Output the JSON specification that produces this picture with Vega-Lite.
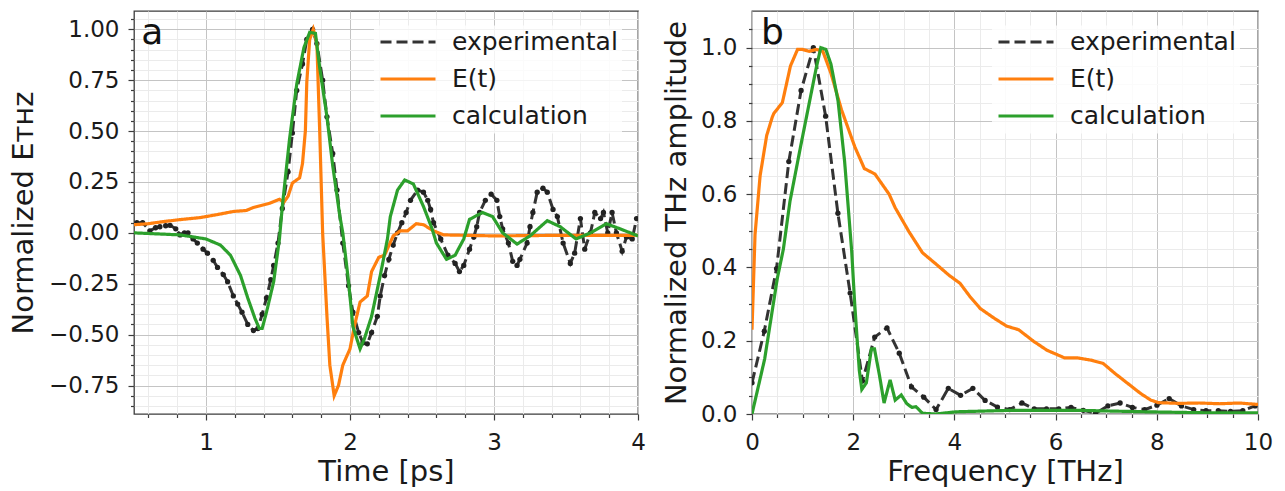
{
  "$schema": "https://vega.github.io/schema/vega-lite/v6.json",
  "background": "white",
  "padding": {"left": 8, "top": 7, "right": 0, "bottom": 0},
  "datasets": {
    "a": [
      {"t":0.52,"E":0.05,"series":"experimental"},{"t":0.56,"E":0.05,"series":"experimental"},{"t":0.61,"E":0.01,"series":"experimental"},{"t":0.65,"E":0.025,"series":"experimental"},{"t":0.68,"E":0.03,"series":"experimental"},{"t":0.72,"E":0.035,"series":"experimental"},{"t":0.75,"E":0.037,"series":"experimental"},{"t":0.79,"E":0.02,"series":"experimental"},{"t":0.82,"E":-0.01,"series":"experimental"},{"t":0.85,"E":0.0,"series":"experimental"},{"t":0.875,"E":0.0,"series":"experimental"},{"t":0.91,"E":-0.03,"series":"experimental"},{"t":0.94,"E":-0.05,"series":"experimental"},{"t":0.98,"E":-0.08,"series":"experimental"},{"t":1.01,"E":-0.10,"series":"experimental"},{"t":1.05,"E":-0.135,"series":"experimental"},{"t":1.08,"E":-0.17,"series":"experimental"},{"t":1.12,"E":-0.205,"series":"experimental"},{"t":1.15,"E":-0.24,"series":"experimental"},{"t":1.19,"E":-0.31,"series":"experimental"},{"t":1.22,"E":-0.35,"series":"experimental"},{"t":1.25,"E":-0.39,"series":"experimental"},{"t":1.29,"E":-0.45,"series":"experimental"},{"t":1.33,"E":-0.48,"series":"experimental"},{"t":1.36,"E":-0.47,"series":"experimental"},{"t":1.39,"E":-0.40,"series":"experimental"},{"t":1.42,"E":-0.32,"series":"experimental"},{"t":1.45,"E":-0.23,"series":"experimental"},{"t":1.47,"E":-0.16,"series":"experimental"},{"t":1.50,"E":-0.05,"series":"experimental"},{"t":1.53,"E":0.12,"series":"experimental"},{"t":1.57,"E":0.30,"series":"experimental"},{"t":1.60,"E":0.49,"series":"experimental"},{"t":1.63,"E":0.70,"series":"experimental"},{"t":1.67,"E":0.83,"series":"experimental"},{"t":1.70,"E":0.95,"series":"experimental"},{"t":1.74,"E":1.0,"series":"experimental"},{"t":1.77,"E":0.93,"series":"experimental"},{"t":1.81,"E":0.75,"series":"experimental"},{"t":1.84,"E":0.57,"series":"experimental"},{"t":1.88,"E":0.39,"series":"experimental"},{"t":1.91,"E":0.21,"series":"experimental"},{"t":1.95,"E":-0.05,"series":"experimental"},{"t":1.99,"E":-0.26,"series":"experimental"},{"t":2.02,"E":-0.39,"series":"experimental"},{"t":2.06,"E":-0.49,"series":"experimental"},{"t":2.09,"E":-0.54,"series":"experimental"},{"t":2.12,"E":-0.545,"series":"experimental"},{"t":2.15,"E":-0.49,"series":"experimental"},{"t":2.19,"E":-0.41,"series":"experimental"},{"t":2.21,"E":-0.31,"series":"experimental"},{"t":2.24,"E":-0.21,"series":"experimental"},{"t":2.27,"E":-0.13,"series":"experimental"},{"t":2.30,"E":-0.06,"series":"experimental"},{"t":2.33,"E":0.0,"series":"experimental"},{"t":2.36,"E":0.05,"series":"experimental"},{"t":2.39,"E":0.10,"series":"experimental"},{"t":2.42,"E":0.16,"series":"experimental"},{"t":2.47,"E":0.21,"series":"experimental"},{"t":2.51,"E":0.20,"series":"experimental"},{"t":2.54,"E":0.16,"series":"experimental"},{"t":2.56,"E":0.115,"series":"experimental"},{"t":2.58,"E":0.05,"series":"experimental"},{"t":2.63,"E":-0.03,"series":"experimental"},{"t":2.68,"E":-0.11,"series":"experimental"},{"t":2.73,"E":-0.15,"series":"experimental"},{"t":2.76,"E":-0.19,"series":"experimental"},{"t":2.79,"E":-0.16,"series":"experimental"},{"t":2.83,"E":-0.08,"series":"experimental"},{"t":2.86,"E":-0.02,"series":"experimental"},{"t":2.88,"E":0.03,"series":"experimental"},{"t":2.90,"E":0.10,"series":"experimental"},{"t":2.94,"E":0.16,"series":"experimental"},{"t":2.98,"E":0.19,"series":"experimental"},{"t":3.02,"E":0.16,"series":"experimental"},{"t":3.04,"E":0.08,"series":"experimental"},{"t":3.06,"E":0.02,"series":"experimental"},{"t":3.10,"E":-0.05,"series":"experimental"},{"t":3.13,"E":-0.14,"series":"experimental"},{"t":3.16,"E":-0.16,"series":"experimental"},{"t":3.18,"E":-0.13,"series":"experimental"},{"t":3.23,"E":-0.05,"series":"experimental"},{"t":3.25,"E":0.03,"series":"experimental"},{"t":3.27,"E":0.10,"series":"experimental"},{"t":3.30,"E":0.20,"series":"experimental"},{"t":3.34,"E":0.22,"series":"experimental"},{"t":3.37,"E":0.20,"series":"experimental"},{"t":3.41,"E":0.115,"series":"experimental"},{"t":3.44,"E":0.08,"series":"experimental"},{"t":3.48,"E":-0.05,"series":"experimental"},{"t":3.53,"E":-0.15,"series":"experimental"},{"t":3.56,"E":-0.10,"series":"experimental"},{"t":3.60,"E":0.07,"series":"experimental"},{"t":3.63,"E":-0.08,"series":"experimental"},{"t":3.67,"E":0.0,"series":"experimental"},{"t":3.70,"E":0.10,"series":"experimental"},{"t":3.74,"E":0.07,"series":"experimental"},{"t":3.76,"E":0.10,"series":"experimental"},{"t":3.79,"E":0.0,"series":"experimental"},{"t":3.82,"E":0.10,"series":"experimental"},{"t":3.85,"E":0.0,"series":"experimental"},{"t":3.89,"E":-0.09,"series":"experimental"},{"t":3.92,"E":-0.02,"series":"experimental"},{"t":3.96,"E":-0.03,"series":"experimental"},{"t":3.99,"E":0.07,"series":"experimental"},
      {"t":0.50,"E":0.04,"series":"E(t)"},{"t":0.60,"E":0.045,"series":"E(t)"},{"t":0.70,"E":0.055,"series":"E(t)"},{"t":0.82,"E":0.065,"series":"E(t)"},{"t":0.96,"E":0.075,"series":"E(t)"},{"t":1.08,"E":0.09,"series":"E(t)"},{"t":1.19,"E":0.105,"series":"E(t)"},{"t":1.28,"E":0.11,"series":"E(t)"},{"t":1.33,"E":0.125,"series":"E(t)"},{"t":1.44,"E":0.145,"series":"E(t)"},{"t":1.51,"E":0.165,"series":"E(t)"},{"t":1.54,"E":0.15,"series":"E(t)"},{"t":1.57,"E":0.18,"series":"E(t)"},{"t":1.60,"E":0.245,"series":"E(t)"},{"t":1.65,"E":0.27,"series":"E(t)"},{"t":1.67,"E":0.34,"series":"E(t)"},{"t":1.69,"E":0.5,"series":"E(t)"},{"t":1.70,"E":0.74,"series":"E(t)"},{"t":1.72,"E":0.95,"series":"E(t)"},{"t":1.745,"E":1.0,"series":"E(t)"},{"t":1.77,"E":0.93,"series":"E(t)"},{"t":1.79,"E":0.49,"series":"E(t)"},{"t":1.81,"E":0.0,"series":"E(t)"},{"t":1.84,"E":-0.41,"series":"E(t)"},{"t":1.86,"E":-0.65,"series":"E(t)"},{"t":1.89,"E":-0.80,"series":"E(t)"},{"t":1.92,"E":-0.75,"series":"E(t)"},{"t":1.95,"E":-0.65,"series":"E(t)"},{"t":2.00,"E":-0.57,"series":"E(t)"},{"t":2.03,"E":-0.46,"series":"E(t)"},{"t":2.07,"E":-0.34,"series":"E(t)"},{"t":2.12,"E":-0.31,"series":"E(t)"},{"t":2.15,"E":-0.19,"series":"E(t)"},{"t":2.20,"E":-0.12,"series":"E(t)"},{"t":2.24,"E":-0.11,"series":"E(t)"},{"t":2.30,"E":-0.015,"series":"E(t)"},{"t":2.35,"E":0.01,"series":"E(t)"},{"t":2.40,"E":0.01,"series":"E(t)"},{"t":2.46,"E":0.045,"series":"E(t)"},{"t":2.51,"E":0.04,"series":"E(t)"},{"t":2.58,"E":0.01,"series":"E(t)"},{"t":2.65,"E":-0.01,"series":"E(t)"},{"t":3.0,"E":-0.015,"series":"E(t)"},{"t":3.5,"E":-0.012,"series":"E(t)"},{"t":4.0,"E":-0.012,"series":"E(t)"},
      {"t":0.50,"E":0.0,"series":"calculation"},{"t":0.82,"E":-0.01,"series":"calculation"},{"t":1.00,"E":-0.03,"series":"calculation"},{"t":1.10,"E":-0.06,"series":"calculation"},{"t":1.17,"E":-0.11,"series":"calculation"},{"t":1.24,"E":-0.21,"series":"calculation"},{"t":1.29,"E":-0.32,"series":"calculation"},{"t":1.34,"E":-0.42,"series":"calculation"},{"t":1.37,"E":-0.47,"series":"calculation"},{"t":1.39,"E":-0.47,"series":"calculation"},{"t":1.42,"E":-0.39,"series":"calculation"},{"t":1.47,"E":-0.24,"series":"calculation"},{"t":1.51,"E":-0.03,"series":"calculation"},{"t":1.53,"E":0.13,"series":"calculation"},{"t":1.58,"E":0.46,"series":"calculation"},{"t":1.63,"E":0.73,"series":"calculation"},{"t":1.68,"E":0.91,"series":"calculation"},{"t":1.72,"E":0.985,"series":"calculation"},{"t":1.76,"E":0.98,"series":"calculation"},{"t":1.79,"E":0.81,"series":"calculation"},{"t":1.84,"E":0.57,"series":"calculation"},{"t":1.88,"E":0.33,"series":"calculation"},{"t":1.93,"E":0.08,"series":"calculation"},{"t":1.95,"E":0.0,"series":"calculation"},{"t":1.99,"E":-0.24,"series":"calculation"},{"t":2.02,"E":-0.46,"series":"calculation"},{"t":2.07,"E":-0.57,"series":"calculation"},{"t":2.10,"E":-0.52,"series":"calculation"},{"t":2.15,"E":-0.41,"series":"calculation"},{"t":2.21,"E":-0.21,"series":"calculation"},{"t":2.26,"E":-0.03,"series":"calculation"},{"t":2.28,"E":0.08,"series":"calculation"},{"t":2.33,"E":0.21,"series":"calculation"},{"t":2.38,"E":0.26,"series":"calculation"},{"t":2.44,"E":0.24,"series":"calculation"},{"t":2.51,"E":0.13,"series":"calculation"},{"t":2.57,"E":0.02,"series":"calculation"},{"t":2.60,"E":-0.05,"series":"calculation"},{"t":2.67,"E":-0.13,"series":"calculation"},{"t":2.73,"E":-0.11,"series":"calculation"},{"t":2.79,"E":-0.03,"series":"calculation"},{"t":2.83,"E":0.066,"series":"calculation"},{"t":2.92,"E":0.10,"series":"calculation"},{"t":2.99,"E":0.08,"series":"calculation"},{"t":3.06,"E":0.0,"series":"calculation"},{"t":3.16,"E":-0.055,"series":"calculation"},{"t":3.25,"E":-0.015,"series":"calculation"},{"t":3.37,"E":0.06,"series":"calculation"},{"t":3.46,"E":0.03,"series":"calculation"},{"t":3.57,"E":-0.03,"series":"calculation"},{"t":3.67,"E":0.0,"series":"calculation"},{"t":3.78,"E":0.045,"series":"calculation"},{"t":3.875,"E":0.02,"series":"calculation"},{"t":4.0,"E":-0.015,"series":"calculation"}
    ],
    "b": [
      {"f":0.0,"A":0.085,"series":"experimental"},{"f":0.2425,"A":0.226,"series":"experimental"},{"f":0.485,"A":0.397,"series":"experimental"},{"f":0.7275,"A":0.689,"series":"experimental"},{"f":0.97,"A":0.883,"series":"experimental"},{"f":1.2125,"A":1.0,"series":"experimental"},{"f":1.455,"A":0.813,"series":"experimental"},{"f":1.6975,"A":0.548,"series":"experimental"},{"f":1.94,"A":0.33,"series":"experimental"},{"f":2.1825,"A":0.09,"series":"experimental"},{"f":2.425,"A":0.21,"series":"experimental"},{"f":2.6675,"A":0.235,"series":"experimental"},{"f":2.91,"A":0.166,"series":"experimental"},{"f":3.1525,"A":0.074,"series":"experimental"},{"f":3.395,"A":0.046,"series":"experimental"},{"f":3.6375,"A":0.012,"series":"experimental"},{"f":3.88,"A":0.07,"series":"experimental"},{"f":4.1225,"A":0.051,"series":"experimental"},{"f":4.365,"A":0.07,"series":"experimental"},{"f":4.6075,"A":0.037,"series":"experimental"},{"f":4.85,"A":0.019,"series":"experimental"},{"f":5.0925,"A":0.012,"series":"experimental"},{"f":5.335,"A":0.03,"series":"experimental"},{"f":5.5775,"A":0.014,"series":"experimental"},{"f":5.82,"A":0.014,"series":"experimental"},{"f":6.0625,"A":0.014,"series":"experimental"},{"f":6.305,"A":0.018,"series":"experimental"},{"f":6.5475,"A":0.01,"series":"experimental"},{"f":6.79,"A":0.002,"series":"experimental"},{"f":7.0325,"A":0.022,"series":"experimental"},{"f":7.275,"A":0.03,"series":"experimental"},{"f":7.5175,"A":0.018,"series":"experimental"},{"f":7.76,"A":0.012,"series":"experimental"},{"f":8.0025,"A":0.024,"series":"experimental"},{"f":8.245,"A":0.042,"series":"experimental"},{"f":8.4875,"A":0.022,"series":"experimental"},{"f":8.73,"A":0.012,"series":"experimental"},{"f":8.9725,"A":0.009,"series":"experimental"},{"f":9.215,"A":0.009,"series":"experimental"},{"f":9.4575,"A":0.007,"series":"experimental"},{"f":9.7,"A":0.009,"series":"experimental"},{"f":9.9425,"A":0.022,"series":"experimental"},
      {"f":0.0,"A":0.23,"series":"E(t)"},{"f":0.06,"A":0.49,"series":"E(t)"},{"f":0.16,"A":0.65,"series":"E(t)"},{"f":0.29,"A":0.76,"series":"E(t)"},{"f":0.40,"A":0.81,"series":"E(t)"},{"f":0.43,"A":0.82,"series":"E(t)"},{"f":0.60,"A":0.85,"series":"E(t)"},{"f":0.76,"A":0.95,"series":"E(t)"},{"f":0.90,"A":0.995,"series":"E(t)"},{"f":1.0,"A":0.995,"series":"E(t)"},{"f":1.13,"A":0.99,"series":"E(t)"},{"f":1.27,"A":0.995,"series":"E(t)"},{"f":1.40,"A":0.99,"series":"E(t)"},{"f":1.56,"A":0.93,"series":"E(t)"},{"f":1.77,"A":0.83,"series":"E(t)"},{"f":2.03,"A":0.73,"series":"E(t)"},{"f":2.22,"A":0.67,"series":"E(t)"},{"f":2.43,"A":0.655,"series":"E(t)"},{"f":2.71,"A":0.60,"series":"E(t)"},{"f":2.83,"A":0.563,"series":"E(t)"},{"f":3.10,"A":0.498,"series":"E(t)"},{"f":3.37,"A":0.44,"series":"E(t)"},{"f":3.63,"A":0.41,"series":"E(t)"},{"f":3.90,"A":0.378,"series":"E(t)"},{"f":4.11,"A":0.357,"series":"E(t)"},{"f":4.31,"A":0.32,"series":"E(t)"},{"f":4.51,"A":0.288,"series":"E(t)"},{"f":4.77,"A":0.263,"series":"E(t)"},{"f":5.03,"A":0.24,"series":"E(t)"},{"f":5.27,"A":0.23,"series":"E(t)"},{"f":5.57,"A":0.198,"series":"E(t)"},{"f":5.83,"A":0.174,"series":"E(t)"},{"f":6.18,"A":0.153,"series":"E(t)"},{"f":6.44,"A":0.153,"series":"E(t)"},{"f":6.70,"A":0.147,"series":"E(t)"},{"f":6.94,"A":0.138,"series":"E(t)"},{"f":7.17,"A":0.111,"series":"E(t)"},{"f":7.43,"A":0.083,"series":"E(t)"},{"f":7.68,"A":0.056,"series":"E(t)"},{"f":7.88,"A":0.038,"series":"E(t)"},{"f":8.03,"A":0.031,"series":"E(t)"},{"f":8.44,"A":0.029,"series":"E(t)"},{"f":8.84,"A":0.03,"series":"E(t)"},{"f":9.24,"A":0.028,"series":"E(t)"},{"f":9.63,"A":0.03,"series":"E(t)"},{"f":10.0,"A":0.026,"series":"E(t)"},
      {"f":0.0,"A":0.0,"series":"calculation"},{"f":0.25,"A":0.15,"series":"calculation"},{"f":0.5,"A":0.37,"series":"calculation"},{"f":0.62,"A":0.45,"series":"calculation"},{"f":0.75,"A":0.58,"series":"calculation"},{"f":0.96,"A":0.73,"series":"calculation"},{"f":1.27,"A":0.945,"series":"calculation"},{"f":1.36,"A":1.0,"series":"calculation"},{"f":1.46,"A":0.995,"series":"calculation"},{"f":1.56,"A":0.955,"series":"calculation"},{"f":1.70,"A":0.855,"series":"calculation"},{"f":1.83,"A":0.69,"series":"calculation"},{"f":1.97,"A":0.445,"series":"calculation"},{"f":2.03,"A":0.30,"series":"calculation"},{"f":2.12,"A":0.12,"series":"calculation"},{"f":2.17,"A":0.067,"series":"calculation"},{"f":2.26,"A":0.085,"series":"calculation"},{"f":2.36,"A":0.178,"series":"calculation"},{"f":2.42,"A":0.178,"series":"calculation"},{"f":2.52,"A":0.105,"series":"calculation"},{"f":2.61,"A":0.03,"series":"calculation"},{"f":2.73,"A":0.093,"series":"calculation"},{"f":2.83,"A":0.038,"series":"calculation"},{"f":2.95,"A":0.052,"series":"calculation"},{"f":3.06,"A":0.028,"series":"calculation"},{"f":3.16,"A":0.018,"series":"calculation"},{"f":3.24,"A":0.02,"series":"calculation"},{"f":3.37,"A":0.002,"series":"calculation"},{"f":3.63,"A":0.0,"series":"calculation"},{"f":4.03,"A":0.006,"series":"calculation"},{"f":5.11,"A":0.01,"series":"calculation"},{"f":6.44,"A":0.01,"series":"calculation"},{"f":7.78,"A":0.006,"series":"calculation"},{"f":9.12,"A":0.003,"series":"calculation"},{"f":10.0,"A":0.003,"series":"calculation"}
    ]
  },
  "hconcat": [
    {
      "width": 504,
      "height": 403,
      "data": {"name": "a"},
      "encoding": {
        "x": {"field": "t", "type": "quantitative", "scale": {"domain": [0.5, 4], "nice": false, "zero": false},
          "axis": {"title": "Time [ps]", "values": [0.6,0.8,1,1.2,1.4,1.6,1.8,2,2.2,2.4,2.6,2.8,3,3.2,3.4,3.6,3.8,4],
            "labelExpr": "abs(datum.value - round(datum.value)) < 1e-6 ? format(datum.value, 'd') : ''",
            "tickSize": {"condition": {"test": "abs(datum.value - round(datum.value)) < 1e-6", "value": 6}, "value": 3.5},
            "gridColor": {"condition": {"test": "abs(datum.value - round(datum.value)) < 1e-6", "value": "#c4c4c4"}, "value": "#ebebeb"},
            "labelPadding": 11.5, "titlePadding": 3}},
        "y": {"field": "E", "type": "quantitative", "scale": {"domain": [-0.89, 1.09], "nice": false, "zero": false},
          "axis": {"title": "Normalized Eᴛʜᴢ", "values": [-0.85,-0.8,-0.75,-0.7,-0.65,-0.6,-0.55,-0.5,-0.45,-0.4,-0.35,-0.3,-0.25,-0.2,-0.15,-0.1,-0.05,0,0.05,0.1,0.15,0.2,0.25,0.3,0.35,0.4,0.45,0.5,0.55,0.6,0.65,0.7,0.75,0.8,0.85,0.9,0.95,1,1.05],
            "labelExpr": "abs(datum.value*4 - round(datum.value*4)) < 1e-6 ? format(datum.value, '.2f') : ''",
            "tickSize": {"condition": {"test": "abs(datum.value*4 - round(datum.value*4)) < 1e-6", "value": 6}, "value": 3.5},
            "gridColor": {"condition": {"test": "abs(datum.value*4 - round(datum.value*4)) < 1e-6", "value": "#c4c4c4"}, "value": "#ebebeb"},
            "labelPadding": 9, "titlePadding": 10}}
      },
      "layer": [
        {"transform": [{"filter": "datum.series === 'experimental'"}],
         "mark": {"type": "line", "strokeWidth": 3, "clip": true},
         "encoding": {
           "color": {"field": "series", "type": "nominal", "scale": {"domain": ["experimental","E(t)","calculation"], "range": ["#333333","#ff7f0e","#2ca02c"]}, "legend": {"orient": "none", "legendX": 240, "legendY": 14.5}},
           "strokeDash": {"field": "series", "type": "nominal", "scale": {"domain": ["experimental","E(t)","calculation"], "range": [[11,5],[1,0],[1,0]]}, "legend": {"orient": "none", "legendX": 240, "legendY": 14.5}}
         }},
        {"transform": [{"filter": "datum.series === 'experimental'"}],
         "mark": {"type": "circle", "size": 28, "color": "#222222", "opacity": 1, "clip": true}},
        {"transform": [{"filter": "datum.series !== 'experimental'"}],
         "mark": {"type": "line", "strokeWidth": 3.2, "clip": true},
         "encoding": {
           "color": {"field": "series", "type": "nominal", "scale": {"domain": ["experimental","E(t)","calculation"], "range": ["#333333","#ff7f0e","#2ca02c"]}, "legend": {"orient": "none", "legendX": 240, "legendY": 14.5}},
           "strokeDash": {"field": "series", "type": "nominal", "scale": {"domain": ["experimental","E(t)","calculation"], "range": [[11,5],[1,0],[1,0]]}, "legend": {"orient": "none", "legendX": 240, "legendY": 14.5}}
         }},
        {"transform": [{"filter": "datum.series === 'calculation' && datum.t === 0.5"}],
         "mark": {"type": "text", "text": "a", "fontSize": 36, "font": "DejaVu Sans", "color": "#111111", "align": "left", "baseline": "alphabetic"},
         "encoding": {"x": {"datum": 0.55}, "y": {"datum": 0.93}}}
      ]
    },
    {
      "width": 506,
      "height": 403,
      "data": {"name": "b"},
      "encoding": {
        "x": {"field": "f", "type": "quantitative", "scale": {"domain": [0, 10], "nice": false, "zero": false},
          "axis": {"title": "Frequency [THz]", "values": [0,0.5,1,1.5,2,2.5,3,3.5,4,4.5,5,5.5,6,6.5,7,7.5,8,8.5,9,9.5,10],
            "labelExpr": "abs(datum.value/2 - round(datum.value/2)) < 1e-6 ? format(datum.value, 'd') : ''",
            "tickSize": {"condition": {"test": "abs(datum.value/2 - round(datum.value/2)) < 1e-6", "value": 6}, "value": 3.5},
            "gridColor": {"condition": {"test": "abs(datum.value/2 - round(datum.value/2)) < 1e-6", "value": "#c4c4c4"}, "value": "#ebebeb"},
            "labelPadding": 11.5, "titlePadding": 3}},
        "y": {"field": "A", "type": "quantitative", "scale": {"domain": [0, 1.1], "nice": false, "zero": false},
          "axis": {"title": "Normalized THz amplitude", "values": [0,0.05,0.1,0.15,0.2,0.25,0.3,0.35,0.4,0.45,0.5,0.55,0.6,0.65,0.7,0.75,0.8,0.85,0.9,0.95,1,1.05],
            "labelExpr": "abs(datum.value*5 - round(datum.value*5)) < 1e-6 ? format(datum.value, '.1f') : ''",
            "tickSize": {"condition": {"test": "abs(datum.value*5 - round(datum.value*5)) < 1e-6", "value": 6}, "value": 3.5},
            "gridColor": {"condition": {"test": "abs(datum.value*5 - round(datum.value*5)) < 1e-6", "value": "#c4c4c4"}, "value": "#ebebeb"},
            "labelPadding": 9, "titlePadding": 9}}
      },
      "layer": [
        {"transform": [{"filter": "datum.series === 'experimental'"}],
         "mark": {"type": "line", "strokeWidth": 3, "clip": true},
         "encoding": {
           "color": {"field": "series", "type": "nominal", "scale": {"domain": ["experimental","E(t)","calculation"], "range": ["#333333","#ff7f0e","#2ca02c"]}, "legend": {"orient": "none", "legendX": 240, "legendY": 14.5}},
           "strokeDash": {"field": "series", "type": "nominal", "scale": {"domain": ["experimental","E(t)","calculation"], "range": [[11,5],[1,0],[1,0]]}, "legend": {"orient": "none", "legendX": 240, "legendY": 14.5}}
         }},
        {"transform": [{"filter": "datum.series === 'experimental'"}],
         "mark": {"type": "circle", "size": 28, "color": "#222222", "opacity": 1, "clip": true}},
        {"transform": [{"filter": "datum.series !== 'experimental'"}],
         "mark": {"type": "line", "strokeWidth": 3.2, "clip": true},
         "encoding": {
           "color": {"field": "series", "type": "nominal", "scale": {"domain": ["experimental","E(t)","calculation"], "range": ["#333333","#ff7f0e","#2ca02c"]}, "legend": {"orient": "none", "legendX": 240, "legendY": 14.5}},
           "strokeDash": {"field": "series", "type": "nominal", "scale": {"domain": ["experimental","E(t)","calculation"], "range": [[11,5],[1,0],[1,0]]}, "legend": {"orient": "none", "legendX": 240, "legendY": 14.5}}
         }},
        {"transform": [{"filter": "datum.series === 'calculation' && datum.f === 0"}],
         "mark": {"type": "text", "text": "b", "fontSize": 36, "font": "DejaVu Sans", "color": "#111111", "align": "left", "baseline": "alphabetic"},
         "encoding": {"x": {"datum": 0.18}, "y": {"datum": 1.01}}}
      ]
    }
  ],
  "spacing": 15,
  "resolve": {"scale": {"color": "independent", "strokeDash": "independent", "x": "independent", "y": "independent"}, "legend": {"color": "independent", "strokeDash": "independent"}},
  "config": {
    "font": "DejaVu Sans",
    "view": {"stroke": "#3c3c3c", "strokeWidth": 1.3},
    "axis": {"domain": false, "labelFont": "DejaVu Sans", "labelFontSize": 23, "labelColor": "#1a1a1a", "titleFont": "DejaVu Sans", "titleFontSize": 29, "titleFontWeight": "normal", "titleColor": "#1a1a1a", "tickColor": "#3c3c3c", "tickWidth": 1.2, "gridWidth": 1, "labelFlush": false, "labelOverlap": false, "labelBound": false},
    "legend": {"title": null, "labelFont": "DejaVu Sans", "labelFontSize": 25, "labelColor": "#1a1a1a", "symbolType": "M-1,0H4.5", "symbolSize": 400, "symbolStrokeWidth": 3, "labelOffset": 49, "rowPadding": 11, "padding": 4, "fillColor": "rgba(255,255,255,0.8)", "labelLimit": 400}
  }
}
